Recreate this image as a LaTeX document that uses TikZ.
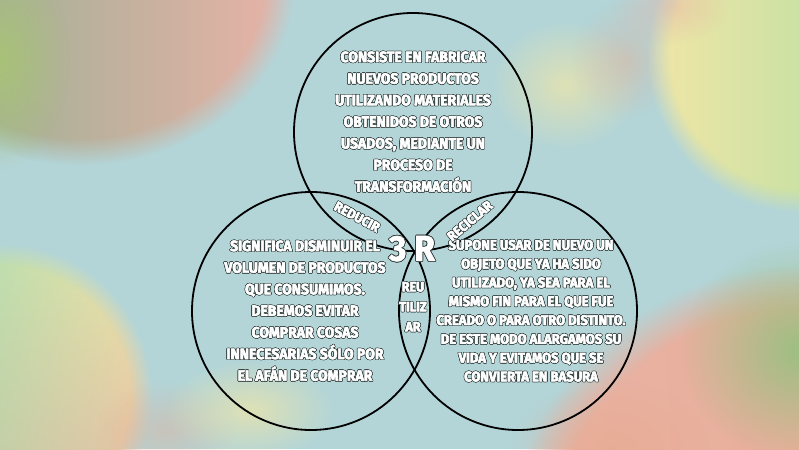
\documentclass[tikz,border=0pt]{standalone}
\usepackage{fontspec}
\usepackage{contour}
\usetikzlibrary{fadings, shadings}
\newfontfamily\capsfont[FakeStretch=0.93]{Fira Sans}
\definecolor{bg}{HTML}{B3D5D8}
\definecolor{outl}{HTML}{34403F}
\definecolor{c1}{HTML}{A9C278}
\definecolor{c2}{HTML}{86B08E}
\definecolor{c3}{HTML}{EAB2A8}
\definecolor{c4}{HTML}{F1E6A6}
\definecolor{c5}{HTML}{A4DDA2}
\definecolor{c6}{HTML}{8ED8B6}
\definecolor{c7}{HTML}{E8AA8E}
\definecolor{c8}{HTML}{E8B3A6}
\definecolor{c9}{HTML}{9CC083}
\contourlength{0.55pt}
\contournumber{12}
% heavy white letters with a dark rim
\newcommand\cl[1]{\special{pdf:literal direct 0.6 w 1 j 2 Tr}\contour{outl}{#1}\special{pdf:literal direct 0 Tr}}
\tikzfading[name=glow, inner color=transparent!0, outer color=transparent!100]

\begin{document}
\begin{tikzpicture}[x=1pt, y=-1pt,
    every node/.style={text=white, inner sep=0pt},
    body/.style={font=\capsfont\bfseries\fontsize{15}{21.6}\selectfont, align=center},
    small/.style={font=\capsfont\bfseries\fontsize{14}{18.8}\selectfont, align=center},
    tag/.style={font=\capsfont\bfseries\fontsize{13.5}{20}\selectfont, align=center},
    ring/.style={black, line width=1.8pt},
    blob/.style={path fading=circle with fuzzy edge 15 percent},
    haze/.style={path fading=glow},
]
\useasboundingbox (0,0) rectangle (799,449);
\fill[bg] (0,0) rectangle (799,449);

% soft patches in the corners
\shade[blob, left color=c2, right color=c3] (80,-20) ellipse (215pt and 185pt);
\fill[haze, c1] (0,60) ellipse (70pt and 110pt);
\fill[haze, c4, opacity=0.7] (565,85) ellipse (75pt and 65pt);
\fill[haze, c7, opacity=0.4] (625,60) ellipse (55pt and 60pt);
\shade[blob, left color=c4, right color=c5] (805,55) circle (158pt);
\fill[haze, c8, opacity=0.5] (670,5) ellipse (60pt and 40pt);
\shade[blob, upper left=c6, upper right=c4, lower left=c5, lower right=c8] (0,395) circle (152pt);
\fill[haze, c7, opacity=0.4] (165,430) ellipse (70pt and 50pt);
\fill[haze, c4, opacity=0.7] (250,410) ellipse (85pt and 50pt);
\shade[blob, left color=c8, right color=c7] (800,560) circle (294pt);
\fill[haze, c9] (800,350) ellipse (120pt and 110pt);
\fill[haze, c7, opacity=0.6] (610,449) ellipse (100pt and 70pt);

% the three rings
\draw[ring] (413,132) circle[radius=119pt];
\draw[ring] (311,311) circle[radius=119pt];
\draw[ring] (518,311) circle[radius=119pt];

% what each R means
\node[body] (reciclarText) at (413,122) {\cl{CONSISTE EN FABRICAR}\\ \cl{NUEVOS PRODUCTOS}\\
    \cl{UTILIZANDO MATERIALES}\\ \cl{OBTENIDOS DE OTROS}\\ \cl{USADOS, MEDIANTE UN}\\
    \cl{PROCESO DE}\\ \cl{TRANSFORMACIÓN}};
\node[body] (reducirText) at (305,311) {\cl{SIGNIFICA DISMINUIR EL}\\ \cl{VOLUMEN DE PRODUCTOS}\\
    \cl{QUE CONSUMIMOS.}\\ \cl{DEBEMOS EVITAR}\\ \cl{COMPRAR COSAS}\\
    \cl{INNECESARIAS SÓLO POR}\\ \cl{EL AFÁN DE COMPRAR}};
\node[small] (reutilizarText) at (531,311) {\cl{SUPONE USAR DE NUEVO UN}\\ \cl{OBJETO QUE YA HA SIDO}\\
    \cl{UTILIZADO, YA SEA PARA EL}\\ \cl{MISMO FIN PARA EL QUE FUE}\\ \cl{CREADO O PARA OTRO DISTINTO.}\\
    \cl{DE ESTE MODO ALARGAMOS SU}\\ \cl{VIDA Y EVITAMOS QUE SE}\\ \cl{CONVIERTA EN BASURA}};

% names on the overlaps
\node[tag, rotate=-28] (reducir) at (357,217) {\cl{REDUCIR}};
\node[tag, rotate=40] (reciclar) at (470,221) {\cl{RECICLAR}};
\node[tag] (reutilizar) at (413,307) {\cl{REU}\\ \cl{TILIZ}\\ \cl{AR}};
\node[font=\capsfont\bfseries\fontsize{36}{36}\selectfont] (tresR) at (412,249)
    {\contourlength{0.8pt}\cl{3 R}};
\end{tikzpicture}
\end{document}
